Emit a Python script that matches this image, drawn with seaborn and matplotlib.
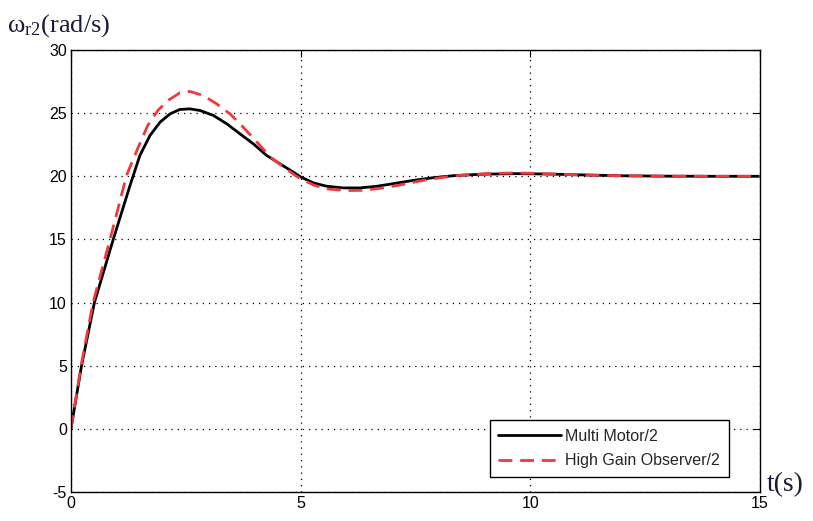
import numpy as np
import pandas as pd
import matplotlib
matplotlib.use("Agg")
import matplotlib.pyplot as plt
import seaborn as sns

# values
t_motor = [0, 0.23, 0.51, 0.92, 1.285, 1.50, 1.72, 1.94, 2.16, 2.37, 2.59, 2.81,
           3.10, 3.39, 3.68, 3.97, 4.26, 4.55, 4.84, 5.0, 5.28, 5.57, 5.93, 6.29,
           6.66, 7.02, 7.46, 7.89, 8.33, 8.91, 9.63, 10.0, 10.5, 11.0, 11.5,
           12.0, 13.0, 14.0, 15.0]
w_motor = [0, 5, 10, 15, 19.27, 21.65, 23.23, 24.29, 24.95, 25.29, 25.34, 25.21,
           24.82, 24.16, 23.36, 22.57, 21.65, 20.99, 20.33, 19.95, 19.47, 19.21,
           19.08, 19.08, 19.21, 19.42, 19.68, 19.89, 20.05, 20.16, 20.21, 20.2,
           20.17, 20.12, 20.08, 20.04, 20.01, 20.0, 20.0]

t_obs = [0, 0.22, 0.48, 0.85, 1.21, 1.45, 1.67, 1.89, 2.11, 2.37, 2.59, 2.88,
         3.17, 3.46, 3.75, 4.05, 4.34, 4.63, 4.88, 5.0, 5.28, 5.57, 6.0, 6.37,
         6.73, 7.09, 7.6, 8.04, 8.47, 9.05, 9.63, 10.0, 10.5, 11.0, 11.5, 12.0,
         13.0, 14.0, 15.0]
w_obs = [0, 5, 10, 15, 20.07, 22.18, 24.02, 25.21, 26.0, 26.61, 26.72, 26.40,
         25.74, 24.95, 23.89, 22.70, 21.52, 20.73, 20.07, 19.82, 19.31, 19.0,
         18.87, 18.89, 19.05, 19.26, 19.63, 19.89, 20.08, 20.21, 20.26, 20.24,
         20.18, 20.12, 20.08, 20.04, 20.01, 20.0, 20.0]

labels = ["Multi Motor/2", "High Gain Observer/2"]

df = pd.concat([
    pd.DataFrame({"t": t_motor, "w": w_motor, "curve": labels[0]}),
    pd.DataFrame({"t": t_obs, "w": w_obs, "curve": labels[1]}),
])

sns.set_style("white")
plt.rcParams["font.family"] = ["Liberation Sans", "DejaVu Sans"]
plt.rcParams["axes.unicode_minus"] = False
plt.rcParams["mathtext.fontset"] = "custom"
plt.rcParams["mathtext.rm"] = "Liberation Serif"

fig = plt.figure(figsize=(8.13, 5.21), dpi=100)
ax = fig.add_axes([0.0873, 0.0557, 0.8475, 0.8483])

sns.lineplot(data=df, x="t", y="w", hue="curve", style="curve",
             palette={labels[0]: "black", labels[1]: "#ee3a3f"},
             dashes={labels[0]: "", labels[1]: (5, 2.8)},
             linewidth=2.0, ax=ax, sort=False)
for line in ax.lines:
    if line.get_label() == labels[1]:
        line.set_zorder(3)

ax.set_xlim(0, 15)
ax.set_ylim(-5, 30)
ax.set_xticks([0, 5, 10, 15])
ax.set_yticks(np.arange(-5, 31, 5))
ax.grid(True, color="black", linestyle=(0, (1, 4)), linewidth=0.9)
ax.tick_params(direction="in", length=5, top=True, right=True,
               labelsize=11.5, colors="black", pad=3)
for s in ax.spines.values():
    s.set_color("black")
    s.set_linewidth(1.0)
ax.set_xlabel("")
ax.set_ylabel("")

leg = ax.legend(loc="lower right", bbox_to_anchor=(0.955, 0.034),
                borderaxespad=0, fontsize=11.5, fancybox=False, framealpha=1,
                edgecolor="black", handlelength=3.9, handletextpad=0.3,
                borderpad=0.55, labelspacing=0.6)
leg.get_frame().set_linewidth(1.0)

fig.text(0.008, 0.94, r"$\mathregular{\omega_{r2}}$(rad/s)", fontsize=19,
         family="Liberation Serif", color="#1a1a3a")
fig.text(0.943, 0.058, "t(s)", fontsize=20, family="Liberation Serif",
         color="#1a1a3a", va="baseline")

fig.savefig("out.png", dpi=100)
